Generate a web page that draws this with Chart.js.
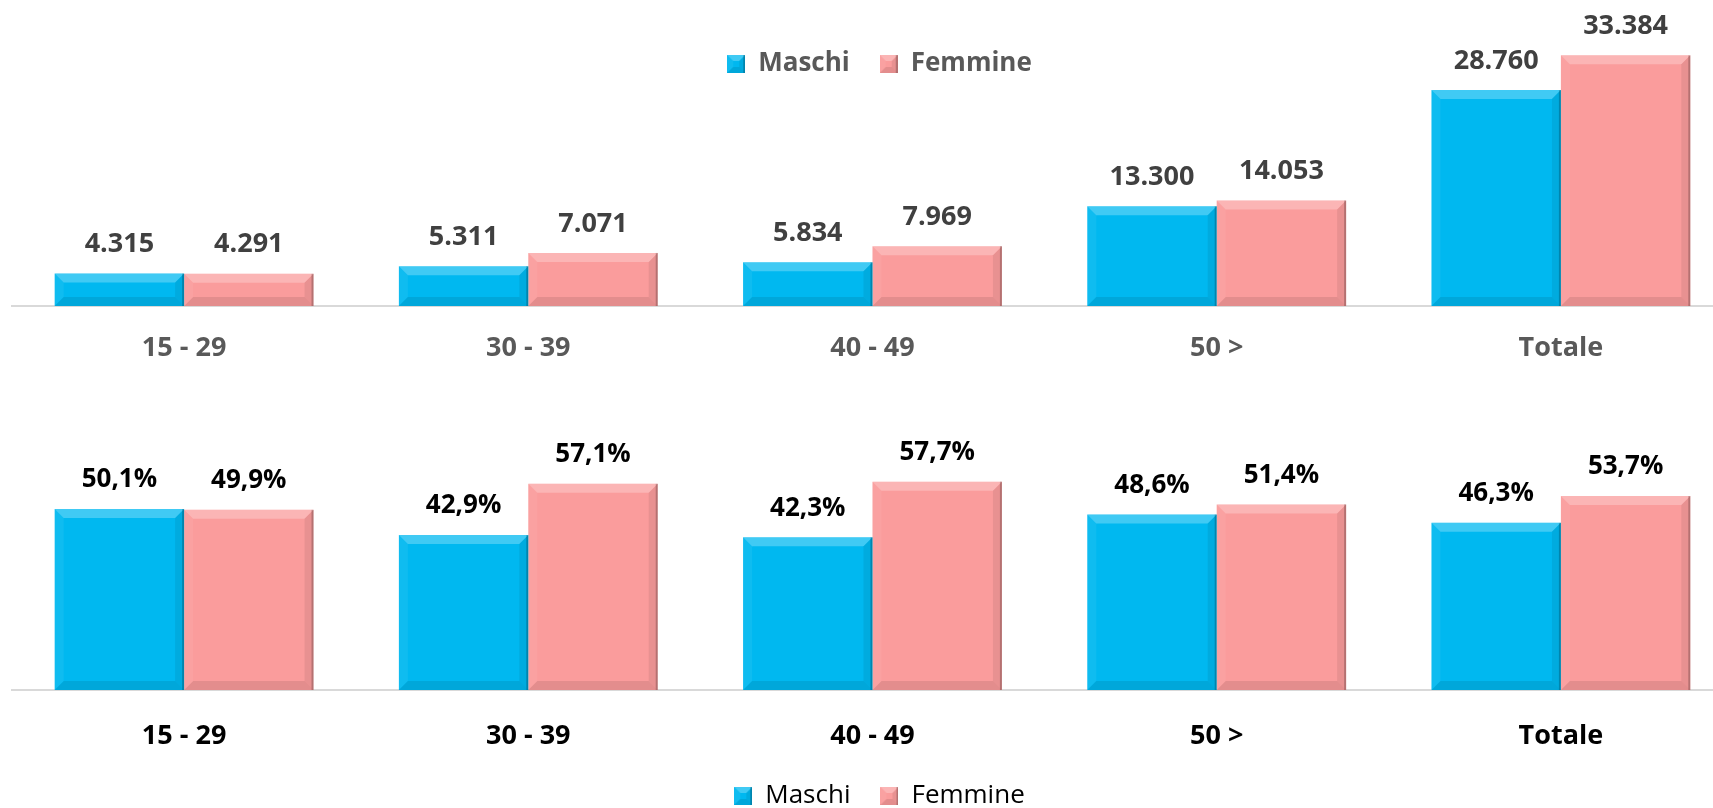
<!DOCTYPE html>
<html lang="it">
<head>
<meta charset="utf-8">
<script src="https://cdn.jsdelivr.net/npm/chart.js@4.4.1/dist/chart.umd.min.js"></script>
<style>
  html, body { margin: 0; padding: 0; background: #fff; overflow: hidden; }
  canvas { display: block; }
</style>
</head>
<body>
<canvas id="counts" width="1747" height="370"></canvas>
<canvas id="shares" width="1747" height="449"></canvas>
<script>
const ageGroups = ['15 - 29', '30 - 39', '40 - 49', '50 >', 'Totale']
const seriesNames = ['Maschi', 'Femmine']
const maschiCount = [4315, 5311, 5834, 13300, 28760]
const femmineCount = [4291, 7071, 7969, 14053, 33384]
const maschiPct = [50.1, 42.9, 42.3, 48.6, 46.3]
const femminePct = [49.9, 57.1, 57.7, 51.4, 53.7]

const BLUE = '#00B8F0'
const PINK = '#FA9C9C'
const FONT = "'Open Sans', sans-serif"

function bevel(ctx, l, t, r, b, size) {
  const s = Math.min(size, (b - t) / 2, (r - l) / 2)
  const side = (pts, fill) => {
    ctx.beginPath()
    ctx.moveTo(pts[0][0], pts[0][1])
    pts.slice(1).forEach(p => ctx.lineTo(p[0], p[1]))
    ctx.closePath()
    ctx.fillStyle = fill
    ctx.fill()
  }
  side([[l, t], [r, t], [r - s, t + s], [l + s, t + s]], 'rgba(255,255,255,0.25)')
  side([[l, t], [l + s, t + s], [l + s, b - s], [l, b]], 'rgba(255,255,255,0.06)')
  side([[r, t], [r, b], [r - s, b - s], [r - s, t + s]], 'rgba(0,0,0,0.07)')
  side([[l, b], [r, b], [r - s, b - s], [l + s, b - s]], 'rgba(0,0,0,0.09)')
  ctx.fillStyle = 'rgba(0,0,0,0.22)'
  ctx.fillRect(r - 2, t, 2, b - t)
}

// little beveled squares for the legend
function legendIcon(color) {
  const c = document.createElement('canvas')
  c.width = 18
  c.height = 18
  const ctx = c.getContext('2d')
  ctx.fillStyle = color
  ctx.fillRect(0, 0, 18, 18)
  bevel(ctx, 0, 0, 18, 18, 6)
  return c
}
const icons = [legendIcon(BLUE), legendIcon(PINK)]

// bevel on the bars + value above each bar
function barDecor(format, color, font) {
  return {
    id: 'barDecor',
    afterDatasetsDraw(chart) {
      const ctx = chart.ctx
      ctx.save()
      chart.data.datasets.forEach((ds, i) => {
        chart.getDatasetMeta(i).data.forEach(bar => {
          const p = bar.getProps(['x', 'y', 'base', 'width'], true)
          bevel(ctx, p.x - p.width / 2, p.y, p.x + p.width / 2, p.base, 9)
        })
      })
      ctx.font = font
      ctx.fillStyle = color
      ctx.textAlign = 'center'
      ctx.textBaseline = 'middle'
      chart.data.datasets.forEach((ds, i) => {
        chart.getDatasetMeta(i).data.forEach((bar, j) => {
          ctx.fillText(format(ds.data[j]), bar.x, bar.y - 29)
        })
      })
      ctx.restore()
    }
  }
}

const thousands = v => String(v).replace(/\B(?=(\d{3})+(?!\d))/g, '.')
const percent = v => v.toFixed(1).replace('.', ',') + '%'

function makeChart(id, maschi, femmine, o) {
  return new Chart(document.getElementById(id), {
    type: 'bar',
    data: {
      labels: ageGroups,
      datasets: [
        { label: seriesNames[0], data: maschi, backgroundColor: BLUE, clip: false },
        { label: seriesNames[1], data: femmine, backgroundColor: PINK, clip: false }
      ]
    },
    options: {
      responsive: false,
      animation: false,
      barPercentage: 1,
      categoryPercentage: 0.752,
      layout: { padding: o.padding },
      plugins: {
        tooltip: { enabled: false },
        legend: {
          position: o.legendPos,
          labels: {
            usePointStyle: true,
            boxWidth: 18,
            boxHeight: 18,
            padding: 30,
            color: o.legendColor,
            font: { family: FONT, size: 26, weight: o.legendWeight },
            generateLabels(chart) {
              const items = Chart.defaults.plugins.legend.labels.generateLabels(chart)
              items.forEach((it, i) => { it.pointStyle = icons[i] })
              return items
            }
          }
        }
      },
      scales: {
        x: {
          grid: { display: false },
          border: { display: true, color: '#D9D9D9', width: 2 },
          ticks: {
            padding: o.tickPad,
            color: o.tickColor,
            font: { family: FONT, size: 27, weight: 'bold' }
          },
          afterFit: s => { s.height = o.xHeight }
        },
        // hidden axis on the right, only there to keep a small empty gutter
        y: {
          position: 'right',
          min: 0,
          max: o.yMax,
          grid: { display: false },
          border: { display: false },
          ticks: { display: false },
          afterFit: s => { s.width = 14 }
        }
      }
    },
    plugins: [barDecor(o.format, o.labelColor, `bold ${o.labelSize}px ${FONT}`)]
  })
}

makeChart('counts', maschiCount, femmineCount, {
  padding: { left: 12, right: 0, top: 21, bottom: 0 },
  legendPos: 'top',
  legendColor: '#595959',
  legendWeight: 'bold',
  tickColor: '#595959',
  tickPad: 18,
  xHeight: 64,
  yMax: 29170,
  format: thousands,
  labelColor: '#404040',
  labelSize: 27
})

makeChart('shares', maschiPct, femminePct, {
  padding: { left: 12, right: 0, top: 60, bottom: 0 },
  legendPos: 'bottom',
  legendColor: '#000000',
  legendWeight: 'normal',
  tickColor: '#000000',
  tickPad: 22,
  xHeight: 63,
  yMax: 72,
  format: percent,
  labelColor: '#000000',
  labelSize: 26
})
</script>
</body>
</html>
